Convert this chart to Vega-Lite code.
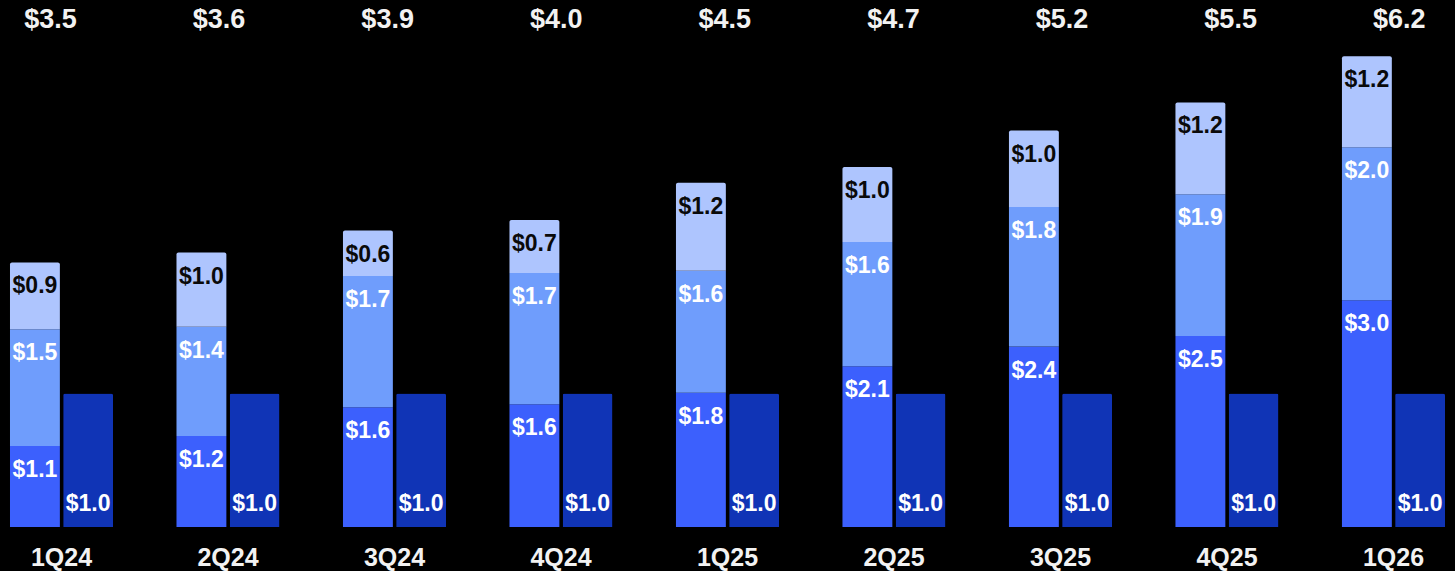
{
  "$schema": "https://vega.github.io/schema/vega-lite/v6.json",
  "width": 1455,
  "height": 527,
  "autosize": {"type": "none"},
  "padding": {"left": 0, "right": 0, "top": 0, "bottom": 44},
  "background": "#000000",
  "config": {"view": {"stroke": null}, "font": "Liberation Sans"},
  "datasets": {
    "segs": [
      {"q": "1Q24", "seg": "bottom", "v": 1.07}, {"q": "1Q24", "seg": "middle", "v": 1.54}, {"q": "1Q24", "seg": "top", "v": 0.88},
      {"q": "2Q24", "seg": "bottom", "v": 1.2}, {"q": "2Q24", "seg": "middle", "v": 1.44}, {"q": "2Q24", "seg": "top", "v": 0.98},
      {"q": "3Q24", "seg": "bottom", "v": 1.58}, {"q": "3Q24", "seg": "middle", "v": 1.73}, {"q": "3Q24", "seg": "top", "v": 0.6},
      {"q": "4Q24", "seg": "bottom", "v": 1.62}, {"q": "4Q24", "seg": "middle", "v": 1.73}, {"q": "4Q24", "seg": "top", "v": 0.7},
      {"q": "1Q25", "seg": "bottom", "v": 1.77}, {"q": "1Q25", "seg": "middle", "v": 1.61}, {"q": "1Q25", "seg": "top", "v": 1.16},
      {"q": "2Q25", "seg": "bottom", "v": 2.12}, {"q": "2Q25", "seg": "middle", "v": 1.64}, {"q": "2Q25", "seg": "top", "v": 0.99},
      {"q": "3Q25", "seg": "bottom", "v": 2.38}, {"q": "3Q25", "seg": "middle", "v": 1.84}, {"q": "3Q25", "seg": "top", "v": 1.01},
      {"q": "4Q25", "seg": "bottom", "v": 2.52}, {"q": "4Q25", "seg": "middle", "v": 1.87}, {"q": "4Q25", "seg": "top", "v": 1.21},
      {"q": "1Q26", "seg": "bottom", "v": 2.99}, {"q": "1Q26", "seg": "middle", "v": 2.02}, {"q": "1Q26", "seg": "top", "v": 1.2}
    ],
    "base": [
      {"q": "1Q24", "v": 1.0}, {"q": "2Q24", "v": 1.0}, {"q": "3Q24", "v": 1.0},
      {"q": "4Q24", "v": 1.0}, {"q": "1Q25", "v": 1.0}, {"q": "2Q25", "v": 1.0},
      {"q": "3Q25", "v": 1.0}, {"q": "4Q25", "v": 1.0}, {"q": "1Q26", "v": 1.0}
    ],
    "totals": [
      {"q": "1Q24", "total": 3.5}, {"q": "2Q24", "total": 3.6}, {"q": "3Q24", "total": 3.9},
      {"q": "4Q24", "total": 4.0}, {"q": "1Q25", "total": 4.5}, {"q": "2Q25", "total": 4.7},
      {"q": "3Q25", "total": 5.2}, {"q": "4Q25", "total": 5.5}, {"q": "1Q26", "total": 6.2}
    ]
  },
  "layer": [
    {
      "data": {"name": "segs"},
      "transform": [
        {"stack": "v", "groupby": ["q"], "sort": [{"field": "seg", "order": "ascending"}], "as": ["v0", "v1"]}
      ],
      "encoding": {
        "x": {
          "field": "q", "type": "nominal", "sort": null,
          "scale": {"paddingInner": 0.381, "paddingOuter": 0.06},
          "axis": {
            "title": null, "domain": false, "ticks": false, "tickSize": 0,
            "labelAngle": 0, "labelFontSize": 25, "labelFontWeight": "bold",
            "labelColor": "#f2f2f2", "labelPadding": 30, "labelBaseline": "middle",
            "labelFont": "Liberation Sans"
          }
        },
        "xOffset": {"datum": "A", "scale": {"domain": ["A", "B"], "paddingInner": 0.062, "paddingOuter": 0}},
        "y": {"field": "v1", "type": "quantitative", "scale": {"domain": [0, 6.952], "nice": false, "zero": true}, "axis": null}
      },
      "layer": [
        {
          "transform": [{"filter": "datum.seg !== 'top'"}],
          "mark": {"type": "bar"},
          "encoding": {
            "y2": {"field": "v0"},
            "color": {"field": "seg", "type": "nominal", "scale": {"domain": ["bottom", "middle", "top"], "range": ["#3c60fd", "#6f9dfc", "#aec5fe"]}, "legend": null}
          }
        },
        {
          "transform": [{"filter": "datum.seg === 'top'"}],
          "mark": {"type": "bar", "cornerRadiusTopLeft": 2, "cornerRadiusTopRight": 2},
          "encoding": {
            "y2": {"field": "v0"},
            "color": {"field": "seg", "type": "nominal", "scale": {"domain": ["bottom", "middle", "top"], "range": ["#3c60fd", "#6f9dfc", "#aec5fe"]}, "legend": null}
          }
        },
        {
          "mark": {"type": "text", "baseline": "middle", "align": "center", "dy": 24, "fontSize": 23, "fontWeight": "bold", "font": "Liberation Sans"},
          "encoding": {
            "text": {"field": "v", "type": "quantitative", "format": "$.1f"},
            "color": {"condition": {"test": "datum.seg === 'top'", "value": "#0a0a0a"}, "value": "#ffffff"}
          }
        }
      ]
    },
    {
      "data": {"name": "base"},
      "encoding": {
        "x": {
          "field": "q", "type": "nominal", "sort": null,
          "scale": {"paddingInner": 0.381, "paddingOuter": 0.06},
          "axis": null
        },
        "xOffset": {"datum": "B", "scale": {"domain": ["A", "B"], "paddingInner": 0.062, "paddingOuter": 0}}
      },
      "layer": [
        {
          "mark": {"type": "bar", "color": "#1034b6", "cornerRadiusTopLeft": 2, "cornerRadiusTopRight": 2},
          "encoding": {
            "y": {"field": "v", "type": "quantitative", "scale": {"domain": [0, 3.95], "nice": false}, "axis": null}
          }
        },
        {
          "mark": {"type": "text", "baseline": "middle", "align": "center", "dy": -23, "fontSize": 23, "fontWeight": "bold", "font": "Liberation Sans", "color": "#ffffff"},
          "encoding": {
            "y": {"datum": 0, "type": "quantitative"},
            "text": {"field": "v", "type": "quantitative", "format": "$.1f"}
          }
        }
      ]
    },
    {
      "data": {"name": "totals"},
      "mark": {"type": "text", "baseline": "middle", "align": "center", "fontSize": 27, "fontWeight": "bold", "font": "Liberation Sans", "color": "#f2f2f2"},
      "encoding": {
        "x": {"field": "q", "type": "nominal", "sort": null, "scale": {"type": "point", "padding": 0.315, "align": 0.475}, "axis": null},
        "y": {"datum": 6.689, "type": "quantitative", "scale": {"domain": [0, 6.952], "nice": false}, "axis": null},
        "text": {"field": "total", "type": "quantitative", "format": "$.1f"}
      }
    }
  ],
  "resolve": {"scale": {"y": "independent", "x": "independent", "xOffset": "independent"}}
}
